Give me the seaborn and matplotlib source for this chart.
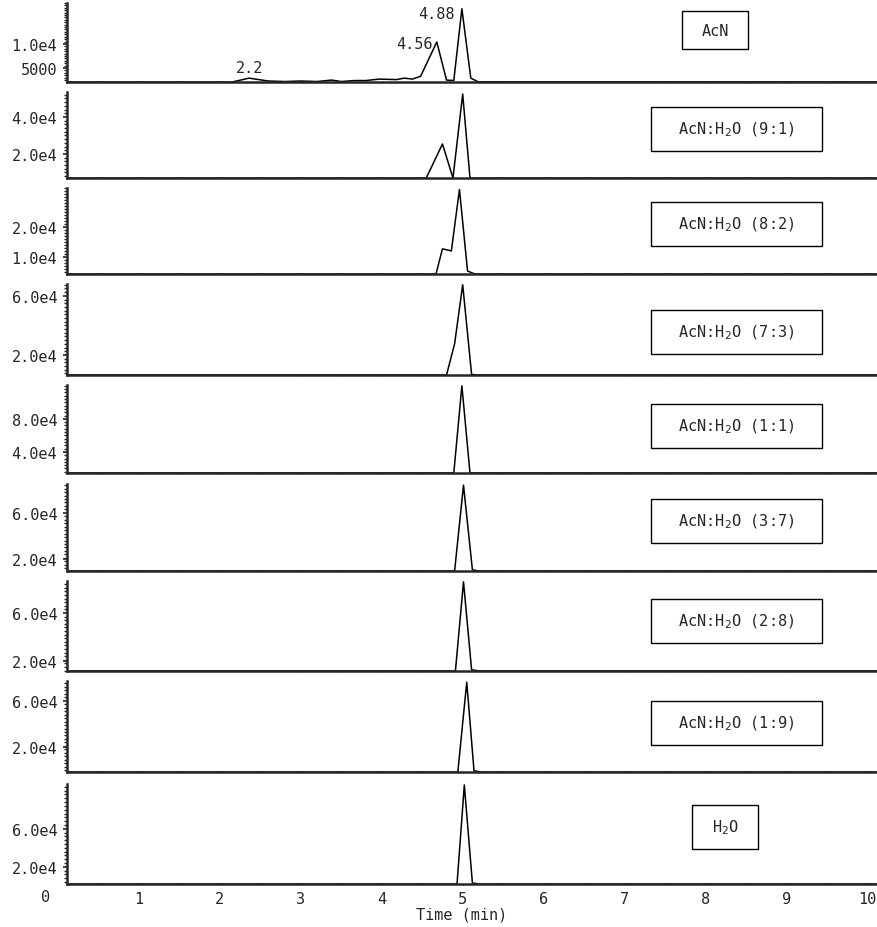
import numpy as np
import pandas as pd
import matplotlib
matplotlib.use("Agg")
import matplotlib.pyplot as plt
from matplotlib.patches import Rectangle
from matplotlib.ticker import MultipleLocator
import seaborn as sns

# sample names (one panel each)
samples = ["AcN", "AcN:H$_2$O (9:1)", "AcN:H$_2$O (8:2)", "AcN:H$_2$O (7:3)",
           "AcN:H$_2$O (1:1)", "AcN:H$_2$O (3:7)", "AcN:H$_2$O (2:8)",
           "AcN:H$_2$O (1:9)", "H$_2$O"]

# chromatograms: time (min) and intensity
t_acn = [0.11, 2.15, 2.36, 2.6, 2.8, 3.0, 3.2, 3.38, 3.5, 3.66, 3.8, 3.97, 4.08,
         4.18, 4.28, 4.38, 4.48, 4.68, 4.80, 4.89, 4.99, 5.10, 5.19, 10.12]
y_acn = [2100, 2100, 2900, 2300, 2200, 2300, 2200, 2500, 2200, 2400, 2400, 2700, 2650,
         2600, 2900, 2700, 3300, 10400, 2500, 2400, 17300, 2900, 2150, 2100]
t_91 = [0.11, 4.55, 4.75, 4.88, 5.0, 5.09, 5.2, 10.12]
y_91 = [7000, 7000, 25400, 7000, 52400, 7000, 7000, 7000]
t_82 = [0.11, 4.67, 4.75, 4.86, 4.96, 5.06, 5.15, 10.12]
y_82 = [4300, 4300, 12700, 12000, 32500, 5300, 4300, 4300]
t_73 = [0.11, 4.80, 4.90, 5.0, 5.11, 5.17, 10.12]
y_73 = [6400, 6400, 27500, 67500, 6800, 6400, 6400]
t_11 = [0.11, 4.89, 4.99, 5.09, 10.12]
y_11 = [14500, 14500, 120000, 14500, 14500]
t_37 = [0.11, 4.90, 5.01, 5.12, 5.2, 10.12]
y_37 = [9600, 9600, 84000, 10600, 9600, 9600]
t_28 = [0.11, 4.91, 5.01, 5.11, 5.21, 10.12]
y_28 = [11700, 11700, 86000, 12700, 11700, 11700]
t_19 = [0.11, 4.94, 5.05, 5.14, 5.23, 10.12]
y_19 = [-1500, -1500, 76000, -500, -1500, -1500]
t_h2o = [0.11, 4.93, 5.02, 5.12, 5.21, 10.12]
y_h2o = [2000, 2000, 106000, 3000, 2000, 2000]

series = [(t_acn, y_acn), (t_91, y_91), (t_82, y_82), (t_73, y_73), (t_11, y_11),
          (t_37, y_37), (t_28, y_28), (t_19, y_19), (t_h2o, y_h2o)]

# y ticks per panel
yticks = [[5000, 10000], [20000, 40000], [10000, 20000], [20000, 60000], [40000, 80000],
          [20000, 60000], [20000, 60000], [20000, 60000], [20000, 60000]]
yticklabels = [["5000", "1.0e4"], ["2.0e4", "4.0e4"], ["1.0e4", "2.0e4"], ["2.0e4", "6.0e4"],
               ["4.0e4", "8.0e4"], ["2.0e4", "6.0e4"], ["2.0e4", "6.0e4"], ["2.0e4", "6.0e4"],
               ["2.0e4", "6.0e4"]]
ylims = [(2100, 18500), (7000, 53500), (4300, 33000), (6400, 68000), (14500, 121000),
         (9600, 85000), (11700, 86700), (-1500, 77000), (2000, 107000)]
minor_steps = [500, 2000, 1000, 2500, 4000, 3000, 3000, 3000, 4000]

# peak labels on the AcN trace
peak_labels = ["2.2", "4.56", "4.88"]
peak_pos = [(2.36, 5200), (4.40, 10000), (4.68, 16250)]

x_ticks = [1, 2, 3, 4, 5, 6, 7, 8, 9, 10]

sns.set_style("ticks")
plt.rcParams['font.family'] = ['DejaVu Sans Mono', 'DejaVu Sans']
plt.rcParams['mathtext.fontset'] = 'dejavusans'

W, H = 877, 928
fig = plt.figure(figsize=(W / 100, H / 100), dpi=100)

# panel extents in pixels (top, bottom)
rows = [(4, 83), (93, 179), (189, 275), (285, 376), (386, 474),
        (485, 572), (582, 672), (682, 773), (785, 885)]
left, right = 67, 877

axes = []
for i, (top, bot) in enumerate(rows):
    ax = fig.add_axes([left / W, 1 - bot / H, (right - left) / W, (bot - top) / H])
    axes.append(ax)
    t, y = series[i]
    df = pd.DataFrame({"time": t, "intensity": y})
    sns.lineplot(data=df, x="time", y="intensity", ax=ax, color="black", lw=1.1)
    ax.set_xlim(0.11, 10.12)
    ax.set_ylim(*ylims[i])
    ax.set_xlabel("")
    ax.set_ylabel("")
    ax.set_yticks(yticks[i])
    ax.set_yticklabels(yticklabels[i])
    ax.yaxis.set_minor_locator(MultipleLocator(minor_steps[i]))
    ax.tick_params(axis="y", which="major", length=3, width=1.2, pad=4, labelsize=11)
    ax.tick_params(axis="y", which="minor", length=2.5, width=1)
    ax.set_xticks(x_ticks)
    ax.xaxis.set_minor_locator(MultipleLocator(0.5))
    ax.tick_params(axis="x", which="both", length=2, width=0.6, color="#888888",
                   direction="inout", labelsize=11, pad=4)
    if i < len(rows) - 1:
        ax.set_xticklabels([])
    for s in ["top", "right"]:
        ax.spines[s].set_visible(False)
    ax.spines["left"].set_linewidth(1.8)
    ax.spines["bottom"].set_linewidth(1.8)
    ax.patch.set_alpha(0)

for lab, (px, py) in zip(peak_labels, peak_pos):
    axes[0].text(px, py, lab, ha="center", va="center", fontsize=11)

# sample boxes (pixel centres and sizes)
box_cx = [715, 736, 736, 736, 736, 736, 736, 736, 725]
box_cy = [31, 130, 225, 333, 427, 522, 622, 724, 828]
box_w = [66, 171, 171, 171, 171, 171, 171, 171, 66]
box_h = [38, 44, 44, 44, 44, 44, 44, 44, 44]
for name, cx, cy, bw, bh in zip(samples, box_cx, box_cy, box_w, box_h):
    fig.add_artist(Rectangle(((cx - bw / 2) / W, 1 - (cy + bh / 2) / H), bw / W, bh / H,
                             transform=fig.transFigure, fill=False, lw=1, ec="black"))
    fig.text(cx / W, 1 - cy / H, name, ha="center", va="center", fontsize=11)

fig.text(46 / W, 1 - 898 / H, "0", ha="center", va="center", fontsize=11)
fig.text(462 / W, 1 - 915 / H, "Time (min)", ha="center", va="center", fontsize=11)

fig.savefig("out.png", dpi=100)
